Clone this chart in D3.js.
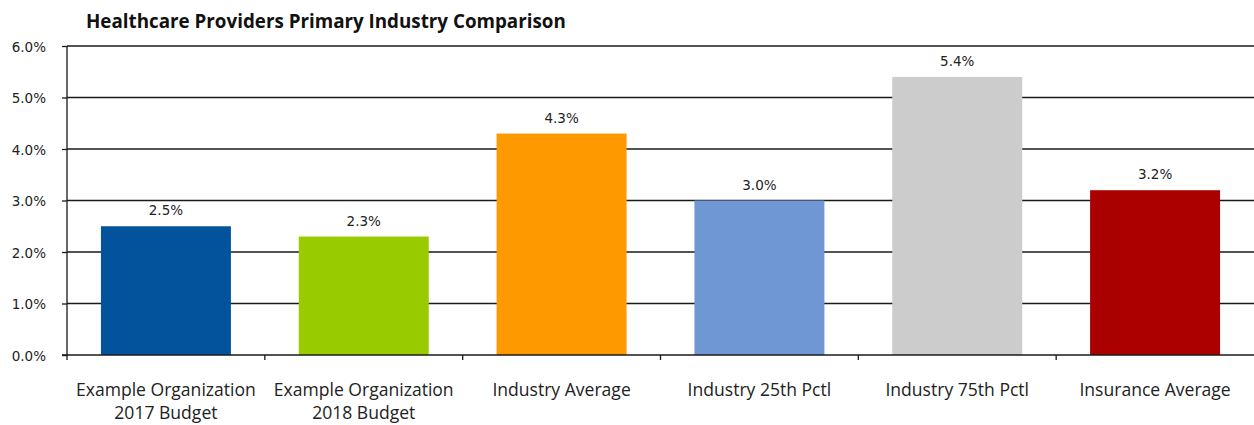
<!DOCTYPE html>
<html>
<head>
<meta charset="utf-8">
<script src="https://cdn.jsdelivr.net/npm/d3@7"></script>
<style>
  html, body { margin: 0; padding: 0; background: #fff; }
  svg { display: block; }
</style>
</head>
<body>
<svg id="chart" width="1254" height="425"></svg>
<script>
// Chart data
const categories = [
  ["Example Organization", "2017 Budget"],
  ["Example Organization", "2018 Budget"],
  ["Industry Average"],
  ["Industry 25th Pctl"],
  ["Industry 75th Pctl"],
  ["Insurance Average"]
];
const values = [2.5, 2.3, 4.3, 3.0, 5.4, 3.2];
const barColors = ["#02539b", "#99cc00", "#ff9900", "#6f97d4", "#cccccc", "#aa0000"];
const yTicks = [0, 1, 2, 3, 4, 5, 6];
const title = "Healthcare Providers Primary Industry Comparison";

const svg = d3.select("#chart");
const margin = { left: 67, right: 0, top: 46 };
const W = 1254;
const plotBottom = 355;

const x = d3.scaleBand()
  .domain(d3.range(categories.length))
  .range([margin.left, W - margin.right])
  .paddingInner(0.343)
  .paddingOuter(0.343 / 2);

const y = d3.scaleLinear().domain([0, 6]).range([plotBottom, margin.top]);

// Title
const titleText = svg.append("text")
  .attr("x", 86)
  .attr("y", 28)
  .attr("font-family", "'Open Sans', sans-serif")
  .attr("font-weight", 700)
  .attr("font-size", 17)
  .attr("fill", "#111")
  .text(title);
// widen the title to its intended span
const titleWidth = titleText.node().getComputedTextLength();
titleText.attr("font-size", 17 * 480 / titleWidth);

// Horizontal gridlines
svg.append("g")
  .selectAll("line")
  .data(yTicks.filter(d => d > 0))
  .join("line")
  .attr("x1", margin.left)
  .attr("x2", W)
  .attr("y1", d => y(d))
  .attr("y2", d => y(d))
  .attr("stroke", "#1a1a1a")
  .attr("stroke-width", 1.3);

// Bars
svg.append("g")
  .selectAll("rect")
  .data(values)
  .join("rect")
  .attr("x", (d, i) => x(i))
  .attr("y", d => y(d))
  .attr("width", x.bandwidth())
  .attr("height", d => y(0) - y(d))
  .attr("fill", (d, i) => barColors[i]);

// Value labels
svg.append("g")
  .selectAll("text")
  .data(values)
  .join("text")
  .attr("x", (d, i) => x(i) + x.bandwidth() / 2)
  .attr("y", d => y(d) - 11)
  .attr("text-anchor", "middle")
  .attr("font-family", "'DejaVu Sans', sans-serif")
  .attr("font-size", 13.5)
  .attr("fill", "#222")
  .text(d => d.toFixed(1) + "%");

// Y axis
const yAxis = d3.axisLeft(y)
  .tickValues(yTicks)
  .tickSize(5)
  .tickPadding(16)
  .tickFormat(d => d.toFixed(1) + "%");
const gy = svg.append("g")
  .attr("transform", `translate(${margin.left},0)`)
  .call(yAxis);
gy.select(".domain").attr("stroke", "#1a1a1a").attr("stroke-width", 1.3)
  .attr("d", `M-5,${y(0)}H0V${y(6)}`);
gy.selectAll(".tick line").attr("stroke", "#1a1a1a").attr("stroke-width", 1.3);
gy.selectAll(".tick text")
  .attr("font-family", "'DejaVu Sans', sans-serif")
  .attr("font-size", 13.5)
  .attr("fill", "#222")
  .attr("dy", "0.4em");

// X axis baseline and category dividers
const boundaries = d3.range(categories.length).map(i => x(i) - x.step() * x.paddingInner() / 2);
const gx = svg.append("g");
gx.append("line")
  .attr("x1", margin.left).attr("x2", W)
  .attr("y1", plotBottom).attr("y2", plotBottom)
  .attr("stroke", "#1a1a1a").attr("stroke-width", 1.3);
gx.selectAll("line.tick")
  .data(boundaries)
  .join("line")
  .attr("class", "tick")
  .attr("x1", d => d).attr("x2", d => d)
  .attr("y1", plotBottom).attr("y2", plotBottom + 5)
  .attr("stroke", "#1a1a1a").attr("stroke-width", 1.3);

// Category labels
const labels = svg.append("g")
  .selectAll("text")
  .data(categories)
  .join("text")
  .attr("x", (d, i) => x(i) + x.bandwidth() / 2)
  .attr("y", 396)
  .attr("text-anchor", "middle")
  .attr("font-family", "'Open Sans', sans-serif")
  .attr("font-size", 16)
  .attr("fill", "#222");
labels.selectAll("tspan")
  .data(d => d)
  .join("tspan")
  .attr("x", function () { return d3.select(this.parentNode).attr("x"); })
  .attr("dy", (d, i) => i === 0 ? 0 : 23)
  .text(d => d);
// size the labels so the longest line spans about 180px
const firstLine = labels.filter((d, i) => i === 0).select("tspan").node();
const lineWidth = firstLine.getComputedTextLength();
labels.attr("font-size", 16 * 180 / lineWidth);
</script>
</body>
</html>
